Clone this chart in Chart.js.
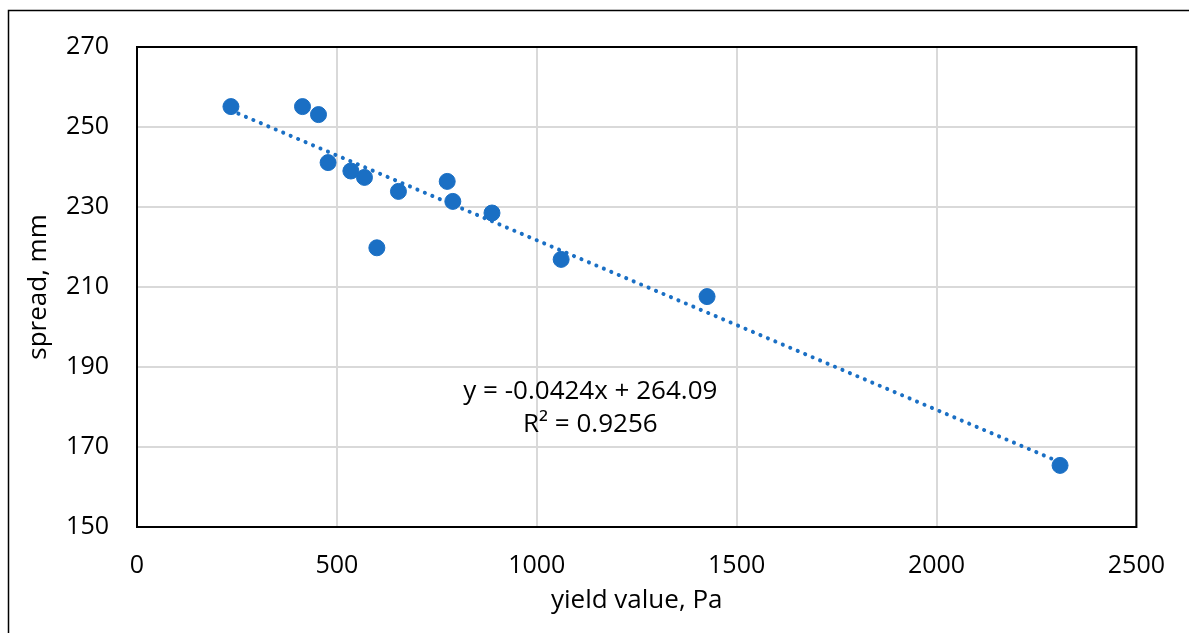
<!DOCTYPE html>
<html>
<head>
<meta charset="utf-8">
<script src="https://cdn.jsdelivr.net/npm/chart.js@4.4.1/dist/chart.umd.min.js"></script>
<style>
  html, body { margin: 0; padding: 0; background: #fff; }
  #wrap { width: 1189px; height: 633px; }
</style>
</head>
<body>
<div id="wrap"><canvas id="spreadChart" width="1189" height="633"></canvas></div>
<script>
// yield value (Pa) vs spread (mm)
const yieldValues = [235, 414, 454, 478, 535, 569, 600, 654, 776, 790, 888, 1061, 1426, 2309];
const spreadValues = [255.1, 255.1, 253.1, 241.1, 239.0, 237.4, 219.8, 233.9, 236.4, 231.4, 228.5, 216.9, 207.6, 165.4];

// trendline as printed on the chart
const trendSlope = -0.0424;
const trendIntercept = 264.09;
const trendLabel = ['y = -0.0424x + 264.09', 'R\u00b2 = 0.9256'];

const xTicks = [0, 500, 1000, 1500, 2000, 2500];
const yTicks = [150, 170, 190, 210, 230, 250, 270];

const blue = '#1a6fc4';
const fontFamily = '"Open Sans", "Noto Sans", sans-serif';

const points = yieldValues.map((x, i) => ({ x: x, y: spreadValues[i] }));
const xMin = Math.min(...yieldValues);
const xMax = Math.max(...yieldValues);
const trendPoints = [xMin, xMax].map(x => ({ x: x, y: trendSlope * x + trendIntercept }));

// outer frame, plot-area box and the equation text
const framePlugin = {
    id: 'frame',
    afterDraw(chart) {
        const ctx = chart.ctx;
        const a = chart.chartArea;
        ctx.save();
        ctx.strokeStyle = '#000';
        ctx.lineWidth = 1.5;
        ctx.strokeRect(8.5, 10.5, 1300, 800);
        ctx.lineWidth = 2;
        ctx.strokeRect(a.left, a.top, a.right - a.left, a.bottom - a.top);

        const xs = chart.scales.x, ys = chart.scales.y;
        ctx.fillStyle = '#000';
        ctx.font = '26px ' + fontFamily;
        ctx.textAlign = 'center';
        ctx.textBaseline = 'middle';
        ctx.fillText(trendLabel[0], xs.getPixelForValue(1134), ys.getPixelForValue(183.75));
        ctx.fillText(trendLabel[1], xs.getPixelForValue(1134), ys.getPixelForValue(175.5));
        ctx.restore();
    }
};

const ctx = document.getElementById('spreadChart').getContext('2d');
new Chart(ctx, {
    type: 'scatter',
    data: {
        datasets: [{
            label: 'spread',
            data: points,
            backgroundColor: blue,
            borderColor: blue,
            pointRadius: 8,
            pointHoverRadius: 8,
            order: 1
        }, {
            type: 'line',
            label: 'trend',
            data: trendPoints,
            borderColor: blue,
            borderWidth: 4,
            borderDash: [0.1, 8],
            borderCapStyle: 'round',
            pointRadius: 0,
            fill: false,
            order: 2
        }]
    },
    options: {
        responsive: false,
        animation: false,
        layout: { padding: { top: 47, right: 50, left: 0, bottom: 0 } },
        plugins: {
            legend: { display: false },
            tooltip: { enabled: false }
        },
        scales: {
            x: {
                type: 'linear',
                min: 0,
                max: 2500,
                afterFit(scale) { scale.height = 106; },
                afterBuildTicks(scale) { scale.ticks = xTicks.map(v => ({ value: v })); },
                grid: { color: '#d9d9d9', lineWidth: 2, drawTicks: false },
                border: { display: false },
                ticks: {
                    color: '#000', padding: 24, maxRotation: 0,
                    font: { family: fontFamily, size: 25 },
                    callback: v => String(v)
                },
                title: {
                    display: true,
                    text: 'yield value, Pa',
                    color: '#000',
                    padding: { top: 0, bottom: 17 },
                    font: { family: fontFamily, size: 26 }
                }
            },
            y: {
                type: 'linear',
                min: 150,
                max: 270,
                afterFit(scale) { scale.width = 137; },
                afterBuildTicks(scale) { scale.ticks = yTicks.map(v => ({ value: v })); },
                grid: { color: '#d9d9d9', lineWidth: 2, drawTicks: false },
                border: { display: false },
                ticks: {
                    color: '#000', padding: 28,
                    font: { family: fontFamily, size: 25 },
                    callback: v => String(v)
                },
                title: {
                    display: true,
                    text: 'spread, mm',
                    color: '#000',
                    padding: { top: 23, bottom: 0 },
                    font: { family: fontFamily, size: 26 }
                }
            }
        }
    },
    plugins: [framePlugin]
});
</script>
</body>
</html>
